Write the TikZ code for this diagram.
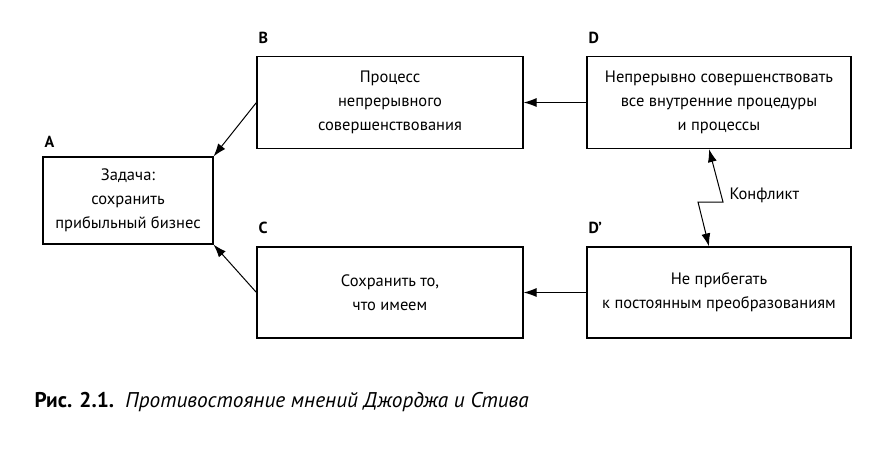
\documentclass[tikz,border=0pt]{standalone}
\usepackage{fontspec}
\setmainfont{PT Sans}
\usetikzlibrary{arrows.meta}
\begin{document}
\begin{tikzpicture}[x=1pt,y=-1pt,
  box/.style={draw,line width=1.1pt,inner sep=0pt,align=center,font=\fontsize{16.5}{24}\selectfont},
  tag/.style={anchor=west,font=\fontsize{16}{19}\selectfont\bfseries},
  arr/.style={line width=1pt,-{Latex[length=13pt,width=9pt]}},
  arrboth/.style={line width=1pt,{Latex[length=13pt,width=9pt]}-{Latex[length=13pt,width=9pt]}}]
 \useasboundingbox (0,0) rectangle (873,450);
 % boxes
 \node [box,minimum width=170pt,minimum height=87pt] (a) at (128,200.5) {Задача:\\сохранить\\прибыльный бизнес};
 \node [box,minimum width=266pt,minimum height=92pt] (b) at (390,102.5) {Процесс\\непрерывного\\совершенствования};
 \node [box,minimum width=266pt,minimum height=91pt] (c) at (390,292.5) {Сохранить то,\\что имеем};
 \node [box,minimum width=264pt,minimum height=92pt] (d) at (719,102.5) {Непрерывно совершенствовать\\все внутренние процедуры\\и процессы};
 \node [box,minimum width=264pt,minimum height=91pt] (dd) at (719,292.5) {Не прибегать\\к постоянным преобразованиям};
 % letters
 \node [tag] (la) at (41,142) {A};
 \node [tag] (lb) at (255,38) {B};
 \node [tag] (lc) at (255,228) {C};
 \node [tag] (ld) at (585,38) {D};
 \node [tag] (ldd) at (585,228) {D’};
 % arrows
 \draw [arr] (d.west) -- (b.east);
 \draw [arr] (dd.west) -- (c.east);
 \draw [arr] (b.west) -- (a.north east);
 \draw [arr] (c.west) -- (a.south east);
 % conflict
 \coordinate (k1) at (723,202);
 \coordinate (k2) at (698,202);
 \draw [arrboth] ([xshift=-10pt]d.south) -- (k1) -- (k2) -- ([xshift=-10pt]dd.north);
 \node [anchor=west,font=\fontsize{16.5}{20}\selectfont] (conf) at (726,195) {Конфликт};
 % caption
 \node [anchor=west,font=\fontsize{21.3}{25}\selectfont] (cap) at (31,402) {\textbf{Рис. 2.1.}\ \ \textit{Противостояние мнений Джорджа и Стива}};
\end{tikzpicture}
\end{document}
